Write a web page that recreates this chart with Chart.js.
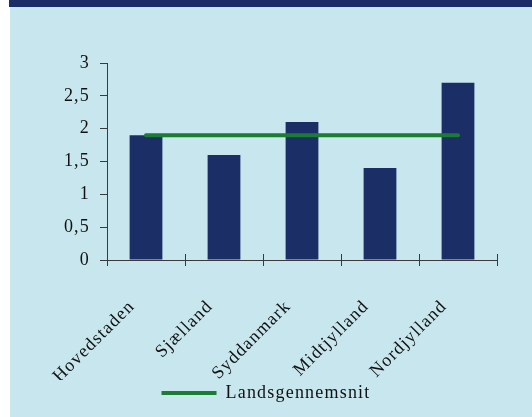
<!DOCTYPE html>
<html>
<head>
<meta charset="utf-8">
<script src="https://cdn.jsdelivr.net/npm/chart.js@4/dist/chart.umd.min.js"></script>
<style>
  html, body { margin: 0; padding: 0; background: #fff; }
  #wrap { position: relative; width: 532px; height: 417px; overflow: hidden; }
  #band { position: absolute; left: 9px; top: 0; right: 0; height: 7px; background: #1c2d66; }
  #panel { position: absolute; left: 10px; top: 7px; right: 0; bottom: 0; background: #c7e6ee; }
  #chart { position: absolute; left: 0; top: 0; }
</style>
</head>
<body>
<div id="wrap">
  <div id="band"></div>
  <div id="panel"></div>
  <canvas id="chart" width="532" height="417"></canvas>
</div>
<script>
const regions = ['Hovedstaden', 'Sjælland', 'Syddanmark', 'Midtjylland', 'Nordjylland'];
const regionValues = [1.9, 1.6, 2.1, 1.4, 2.7];
const nationalAverage = [1.9, 1.9, 1.9, 1.9, 1.9];
const averageLabel = 'Landsgennemsnit';

const serif = "'Liberation Serif', 'Times New Roman', serif";
const axisColor = '#3a3a3a';
const fontSize = 18;

// ord i figuren er lidt spaererede
const spacing = {
  id: 'spacing',
  beforeLayout(chart) { chart.ctx.letterSpacing = '1.2px'; },
  beforeDraw(chart) { chart.ctx.letterSpacing = '1.2px'; }
};

// kategori-streger går lidt op over x-aksen
const innerTicks = {
  id: 'innerTicks',
  afterDraw(chart) {
    const x = chart.scales.x;
    const c = chart.ctx;
    c.save();
    c.strokeStyle = axisColor;
    c.lineWidth = 1;
    for (let i = 0; i <= regions.length; i++) {
      const px = Math.round(x.getPixelForValue(i - 0.5)) + 0.5;
      c.beginPath();
      c.moveTo(px, x.top - 6);
      c.lineTo(px, x.top);
      c.stroke();
    }
    c.restore();
  }
};

const ctx = document.getElementById('chart').getContext('2d');
new Chart(ctx, {
  data: {
    labels: regions,
    datasets: [
      {
        type: 'line',
        label: averageLabel,
        data: nationalAverage,
        borderColor: '#1a7d31',
        backgroundColor: '#1a7d31',
        borderWidth: 4,
        borderCapStyle: 'round',
        pointRadius: 0,
        order: 0
      },
      {
        type: 'bar',
        label: 'Regioner',
        data: regionValues,
        backgroundColor: '#1c2e66',
        barPercentage: 0.42,
        categoryPercentage: 1,
        order: 1
      }
    ]
  },
  options: {
    responsive: false,
    animation: false,
    locale: 'da-DK',
    layout: { padding: { top: 63, right: 35, bottom: 5, left: 35 } },
    plugins: {
      tooltip: { enabled: false },
      legend: {
        position: 'bottom',
        labels: {
          color: '#111',
          font: { family: serif, size: fontSize },
          boxWidth: 55,
          boxHeight: 4,
          padding: 4,
          filter: item => item.text === averageLabel,
          generateLabels(chart) {
            const items = Chart.defaults.plugins.legend.labels.generateLabels(chart);
            items.forEach(it => { it.lineWidth = 0; });
            return items;
          }
        }
      }
    },
    scales: {
      x: {
        offset: true,
        grid: { display: true, drawOnChartArea: false, offset: true, tickLength: 6, color: axisColor },
        border: { display: true, color: axisColor },
        ticks: {
          color: '#111',
          font: { family: serif, size: fontSize },
          autoSkip: false,
          minRotation: 45,
          maxRotation: 45,
          padding: 30,
          labelOffset: -14
        },
        afterFit(scale) { scale.height = 120; }
      },
      y: {
        min: 0,
        max: 3,
        grid: { display: true, drawOnChartArea: false, tickLength: 7, color: axisColor },
        border: { display: true, color: axisColor },
        ticks: {
          stepSize: 0.5,
          color: '#111',
          font: { family: serif, size: fontSize },
          padding: 10,
          callback: v => v.toLocaleString('da-DK')
        },
        afterFit(scale) { scale.width = 72; }
      }
    }
  },
  plugins: [spacing, innerTicks]
});
</script>
</body>
</html>
